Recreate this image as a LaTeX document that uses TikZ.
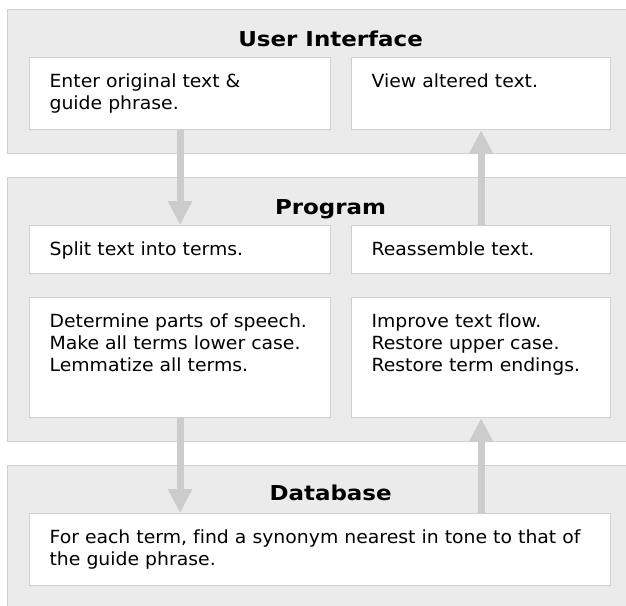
\documentclass[tikz,border=0pt]{standalone}
\usepackage{fontspec}
\setmainfont{DejaVu Sans}[FakeStretch=1.04,Ligatures=CommonOff]
\newfontfamily\titlefont{DejaVu Sans}[FakeStretch=1.12,Ligatures=CommonOff]
\usetikzlibrary{arrows.meta}
\definecolor{panelfill}{HTML}{EBEBEB}
\definecolor{rulegray}{HTML}{CFCFCF}
\definecolor{flowgray}{HTML}{CCCCCC}

\begin{document}
\begin{tikzpicture}[x=1pt,y=-1pt,
      panel/.style={draw=rulegray,fill=panelfill,line width=1.2pt,anchor=north west,
         minimum width=646pt,inner sep=0pt},
      title/.style={font=\titlefont\fontsize{20.5}{24}\selectfont\bfseries,anchor=base},
      stepbox/.style={draw=rulegray,fill=white,line width=1.2pt,anchor=north west,align=left,
         inner xsep=20pt,inner ysep=0pt,text height=30pt,text depth=#1,
         font=\fontsize{18.1}{22}\selectfont},
      flow/.style={flowgray,line width=7pt,-{Triangle[width=23pt,length=24pt]}}]
         \clip (0,0) rectangle (626,605);

         \node[panel,minimum height=144pt,name=uipanel] at (7,9) {};
         \node[title] at ([yshift=-37.5pt]uipanel.north) {User Interface};
         \node[stepbox=42pt,text width=261pt,name=enter] at (29,57) {Enter original text \&\\guide phrase.};
         \node[stepbox=42pt,text width=219pt,name=view] at (351,57) {View altered text.};

         \node[panel,minimum height=264pt,name=progpanel] at (7,177) {};
         \node[title] at ([yshift=-37pt]progpanel.north) {Program};
         \node[stepbox=18pt,text width=261pt,name=split] at (29,225) {Split text into terms.};
         \node[stepbox=18pt,text width=219pt,name=reassemble] at (351,225) {Reassemble text.};
         \node[stepbox=90pt,text width=261pt,name=determine] at (29,297)
            {Determine parts of speech.\\Make all terms lower case.\\Lemmatize all terms.};
         \node[stepbox=90pt,text width=219pt,name=improve] at (351,297)
            {Improve text flow.\\Restore upper case.\\Restore term endings.};

         \node[panel,minimum height=200pt,name=dbpanel] at (7,465) {};
         \node[title] at ([yshift=-35pt]dbpanel.north) {Database};
         \node[stepbox=42pt,text width=541pt,name=lookup] at (29,513)
            {For each term, find a synonym nearest in tone to that of\\the guide phrase.};

         \path[flow]
            (enter.south) edge (split.north)
            (reassemble.north) edge (view.south)
            (determine.south) edge (determine.south |- lookup.north)
            (lookup.north -| improve.south) edge (improve.south);
      \end{tikzpicture}
\end{document}
